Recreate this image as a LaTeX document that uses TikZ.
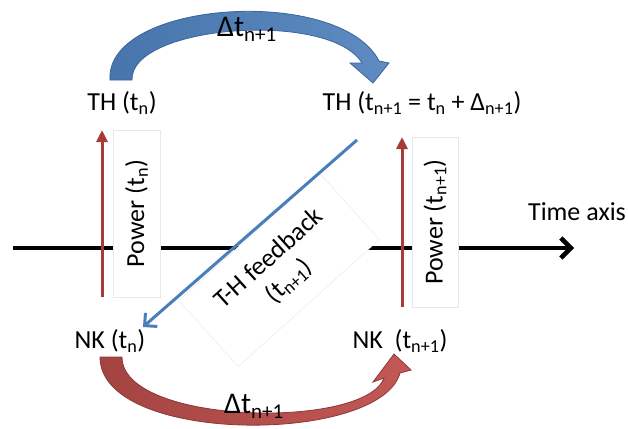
\documentclass[tikz,border=0pt]{standalone}
\usepackage{fontspec}
\setmainfont{Carlito}
\usepackage{tikz}
\usetikzlibrary{positioning, arrows.meta, calc}

\definecolor{thblue}{HTML}{4F81BD}
\definecolor{thblueline}{HTML}{3A6699}
\definecolor{nkred}{HTML}{C0504D}
\definecolor{nkredline}{HTML}{8C3836}
\definecolor{powred}{HTML}{A63C3A}
\definecolor{fbblue}{HTML}{4A7EBB}

\newcommand{\sbs}[1]{\textsubscript{#1}}

\begin{document}
\begin{tikzpicture}[x=1pt, y=-1pt,
  every node/.style={font=\fontsize{26}{30}\selectfont, inner sep=0pt},
  steplbl/.style={font=\fontsize{30}{34}\selectfont},
  whitebox/.style={draw=black!9, fill=white, line width=0.4pt},
  powarrow/.style={-{Triangle[length=12pt,width=11pt]}, line width=3pt, powred},
  fbarrow/.style={-{Straight Barb[length=9pt,width=18pt]}, line width=3pt, fbblue},
  axisline/.style={-{Straight Barb[length=10pt,width=20pt]}, line width=4.5pt, black}]
  \useasboundingbox (0,0) rectangle (628,428);

  % time axis
  \coordinate (ax0) at (13,248);
  \coordinate (ax1) at (574,248);
  \draw[axisline] (ax0) -- (ax1);
  \node (timelbl) at (577,212) {Time axis};

  % boxes over the axis
  \node[whitebox, rotate=90, minimum width=167pt, minimum height=47pt] (pw1) at (136.5,213.5) {Power (t\sbs{n})};
  \node[whitebox, rotate=90, minimum width=170pt, minimum height=46pt] (pw2) at (435,222) {Power (t\sbs{n+1})};
  \node[whitebox, rotate=42, minimum width=190pt, minimum height=89pt, align=center] (fb) at (279,270) {T-H feedback\\(t\sbs{n+1})};

  % states
  \node (thn) at (122,103) {TH (t\sbs{n})};
  \node (thnn) at (422,103) {TH (t\sbs{n+1} = t\sbs{n} + Δ\sbs{n+1})};
  \node (nkn) at (110,341) {NK (t\sbs{n})};
  \node (nknn) at (400,341) {NK\ \ (t\sbs{n+1})};

  % power and feedback arrows
  \coordinate (p1a) at (102,297);
  \coordinate (p1b) at (102,130);
  \coordinate (p2a) at (402,307);
  \coordinate (p2b) at (402,137);
  \draw[powarrow] (p1a) -- (p1b);
  \draw[powarrow] (p2a) -- (p2b);
  \coordinate (fb0) at (357,140);
  \coordinate (fb1) at (143,327);
  \draw[fbarrow] (fb0) -- (fb1);

  % time steps
  \shadedraw[left color=thblue!90!black, right color=thblue!92!white, draw=thblueline, line width=0.8pt]
    (110,80) .. controls (105,0) and (340,-15) .. (379,61)
    -- (389,63) -- (373,83) -- (350,63) -- (362,63)
    .. controls (330,10) and (130,25) .. (132,80) -- cycle;
  \shadedraw[left color=nkred!85!black, right color=nkred!95!white, draw=nkredline, line width=0.8pt]
    (100,357) .. controls (100,445) and (380,445) .. (400,373)
    -- (411,370) -- (394,354) -- (373,382) -- (384,378)
    .. controls (365,430) and (122,425) .. (122,357) -- cycle;
  \node[steplbl] (dtop) at (247,29) {Δt\sbs{n+1}};
  \node[steplbl] (dbot) at (254,406) {Δt\sbs{n+1}};
\end{tikzpicture}
\end{document}
